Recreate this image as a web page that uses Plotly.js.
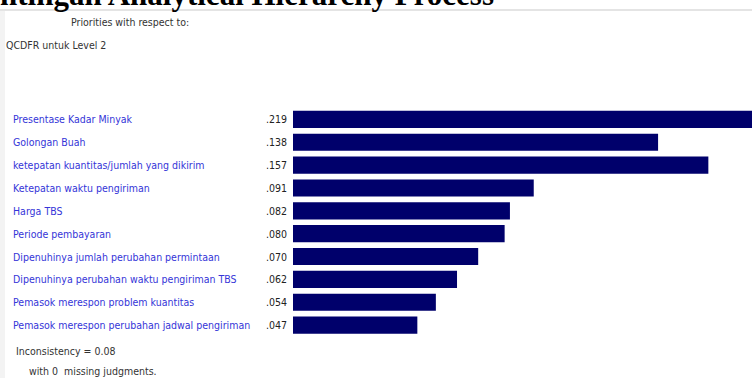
<!DOCTYPE html>
<html>
<head>
<meta charset="utf-8">
<script src="https://cdn.plot.ly/plotly-3.0.1.min.js"></script>
<style>html,body{margin:0;padding:0;background:#fff;}#chart{width:752px;height:378px;}</style>
</head>
<body>
<div id="chart"></div>
<script>
const categories = [
  "Presentase Kadar Minyak",
  "Golongan Buah",
  "ketepatan kuantitas/jumlah yang dikirim",
  "Ketepatan waktu pengiriman",
  "Harga TBS",
  "Periode pembayaran",
  "Dipenuhinya jumlah perubahan permintaan",
  "Dipenuhinya perubahan waktu pengiriman TBS",
  "Pemasok merespon problem kuantitas",
  "Pemasok merespon perubahan jadwal pengiriman"
];
const values = [0.219, 0.138, 0.157, 0.091, 0.082, 0.080, 0.070, 0.062, 0.054, 0.047];
const valueLabels = [".219", ".138", ".157", ".091", ".082", ".080", ".070", ".062", ".054", ".047"];
const titleText = "ntingan Analytical Hierarchy Process";
const headerText = "Priorities with respect to:";
const goalText = "QCDFR untuk Level 2";
const inconsistencyText = "Inconsistency = 0.08";
const missingText = "with 0  missing judgments.";

const W = 752, H = 378;
const px = x => x / W;
const py = y => 1 - y / H;
const narrow = '"DejaVu Sans Condensed", "Liberation Sans Narrow", sans-serif';
const FS = 10.5;

const trace = {
  type: 'bar',
  orientation: 'h',
  x: values,
  y: categories,
  width: 0.75,
  marker: {color: '#00006b', line: {width: 0}},
  hoverinfo: 'none'
};

const annotations = [];
categories.forEach((c, i) => {
  annotations.push({
    xref: 'paper', yref: 'y', x: px(11), y: c, xanchor: 'left', yanchor: 'middle',
    text: c, showarrow: false, font: {family: narrow, size: FS, color: '#3535d8'}
  });
  annotations.push({
    xref: 'paper', yref: 'y', x: px(264), y: c, xanchor: 'left', yanchor: 'middle',
    text: valueLabels[i], showarrow: false, font: {family: narrow, size: FS, color: '#222'}
  });
});
annotations.push({xref:'paper', yref:'paper', x: px(-2), y: py(-25), xanchor:'left', yanchor:'top',
  text: '<b>' + titleText + '</b>', showarrow:false,
  font:{family:'"Liberation Serif", "DejaVu Serif", serif', size:31, color:'#000'}});
annotations.push({xref:'paper', yref:'paper', x: px(69), y: py(22), xanchor:'left', yanchor:'middle',
  text: headerText, showarrow:false, font:{family:narrow, size:FS, color:'#333'}});
annotations.push({xref:'paper', yref:'paper', x: px(4), y: py(45), xanchor:'left', yanchor:'middle',
  text: goalText, showarrow:false, font:{family:narrow, size:FS, color:'#333'}});
annotations.push({xref:'paper', yref:'paper', x: px(14), y: py(351), xanchor:'left', yanchor:'middle',
  text: inconsistencyText, showarrow:false, font:{family:narrow, size:FS, color:'#333'}});
annotations.push({xref:'paper', yref:'paper', x: px(27), y: py(371), xanchor:'left', yanchor:'middle',
  text: missingText, showarrow:false, font:{family:narrow, size:FS, color:'#333'}});

const layout = {
  width: W, height: H,
  margin: {l: 0, r: 0, t: 0, b: 0, pad: 0},
  paper_bgcolor: '#ffffff',
  plot_bgcolor: 'rgba(0,0,0,0)',
  showlegend: false,
  bargap: 0.25,
  xaxis: {domain: [px(293), 1], range: [0, 0.1735], showgrid: false, zeroline: false,
          showticklabels: false, ticks: '', showline: false, fixedrange: true},
  yaxis: {domain: [py(336.5), py(108)], autorange: 'reversed', showgrid: false, zeroline: false,
          showticklabels: false, ticks: '', showline: false, fixedrange: true},
  shapes: [
    {type:'line', xref:'paper', yref:'paper', x0:0, x1:1, y0:py(10), y1:py(10),
     line:{color:'#e4e4e4', width:2}},
    {type:'rect', xref:'paper', yref:'paper', x0:0, x1:px(5), y0:0, y1:py(11),
     fillcolor:'#f3f3f3', line:{width:0}, layer:'below'}
  ],
  annotations: annotations
};

Plotly.newPlot('chart', [trace], layout, {displayModeBar: false, staticPlot: true});
</script>
</body>
</html>
